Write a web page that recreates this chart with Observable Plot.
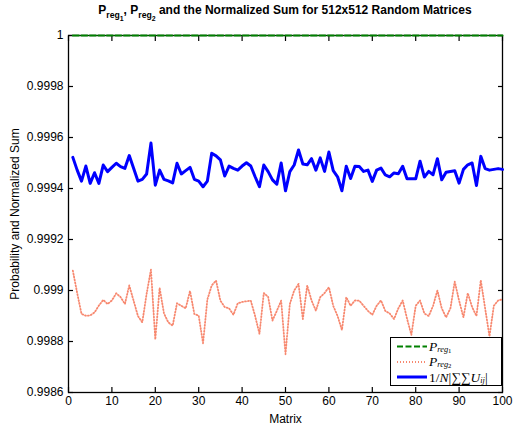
<!DOCTYPE html>
<html><head><meta charset="utf-8">
<script src="https://cdn.jsdelivr.net/npm/d3@7"></script>
<script src="https://cdn.jsdelivr.net/npm/@observablehq/plot@0.6"></script>
<style>
body{margin:0;background:#fff;}
#wrap{position:relative;width:526px;height:429px;font-family:"Liberation Sans",Arial,sans-serif;}
#title{position:absolute;left:0;top:4px;width:570px;text-align:center;font-weight:bold;font-size:12px;line-height:1;white-space:nowrap;}
#title sub{font-size:0.72em;vertical-align:-0.45em;line-height:0;}
#title sub sub{font-size:0.8em;vertical-align:-0.5em;}
#legend{position:absolute;left:390px;top:337px;width:110px;height:47px;border:1px solid #000;background:#fff;overflow:hidden;}
#legend svg{position:absolute;left:0;top:0;}
.lt{position:absolute;left:38px;font-family:"Liberation Serif","Times New Roman",serif;font-size:13.5px;line-height:13px;height:13px;white-space:nowrap;}
.lt i{font-style:italic;}
.lt sub{font-size:0.62em;vertical-align:baseline;position:relative;top:0.1em;line-height:0;font-style:italic;}
.lt sub sub{font-size:0.8em;font-style:normal;top:0.15em;}
</style>
</head><body>
<div id="wrap">
<div id="chart"></div>
<div id="title">P<sub>reg<sub>1</sub></sub>, P<sub>reg<sub>2</sub></sub> and the Normalized Sum for 512x512 Random Matrices</div>
<div id="legend">
<svg width="110" height="47">
<line x1="6" x2="36" y1="8.5" y2="8.5" stroke="#008000" stroke-width="2" stroke-dasharray="6,2.5"/>
<line x1="6" x2="36" y1="24" y2="24" stroke="#f4603f" stroke-width="1.8" stroke-dasharray="1,2" stroke-opacity="0.75"/>
<line x1="6" x2="36" y1="39" y2="39" stroke="#0000ff" stroke-width="3"/>
</svg>
<div class="lt" style="top:2px"><i>P</i><sub>reg<sub>1</sub></sub></div>
<div class="lt" style="top:17px"><i>P</i><sub>reg<sub>2</sub></sub></div>
<div class="lt" style="top:33px">1/<i>N</i>|∑∑<i>U</i><sub>ij</sub>|</div>
</div>
</div>
<script>
const matrices = d3.range(1, 101);
const pReg1 = [1,1,1,1,1,1,1,1,1,1, 1,1,1,1,1,1,1,1,1,1, 1,1,1,1,1,1,1,1,1,1, 1,1,1,1,1,1,1,1,1,1, 1,1,1,1,1,1,1,1,1,1,
               1,1,1,1,1,1,1,1,1,1, 1,1,1,1,1,1,1,1,1,1, 1,1,1,1,1,1,1,1,1,1, 1,1,1,1,1,1,1,1,1,1, 1,1,1,1,1,1,1,1,1,1];
const pReg2 = [
0.999078,0.998990,0.998908,0.998901,0.998902,0.998914,0.998941,0.998963,0.998947,0.998961,
0.998989,0.998974,0.998947,0.999020,0.998960,0.998900,0.998875,0.998987,0.999082,0.998808,
0.999010,0.998910,0.998875,0.998862,0.998950,0.998940,0.998930,0.998998,0.998908,0.998901,
0.998793,0.998965,0.999020,0.999039,0.998960,0.998935,0.998930,0.998905,0.998950,0.998955,
0.998958,0.998960,0.998900,0.998830,0.998990,0.998975,0.998882,0.998920,0.998960,0.998750,
0.998947,0.999000,0.999026,0.998888,0.999020,0.998961,0.998921,0.998974,0.998990,0.999013,
0.998940,0.998900,0.998845,0.998974,0.998940,0.998961,0.998960,0.998940,0.998920,0.998905,
0.998940,0.998961,0.998920,0.998910,0.998888,0.998930,0.998961,0.998890,0.998826,0.998940,
0.998961,0.998910,0.998900,0.998940,0.999000,0.998930,0.998895,0.998930,0.999035,0.998960,
0.998895,0.998990,0.998935,0.998900,0.999040,0.998930,0.998820,0.998940,0.998961,0.998965];
const normSum = [
0.999522,0.999472,0.999429,0.999488,0.999420,0.999462,0.999420,0.999492,0.999466,0.999483,
0.999499,0.999486,0.999479,0.999529,0.999479,0.999429,0.999436,0.999457,0.999578,0.999413,
0.999472,0.999436,0.999430,0.999422,0.999499,0.999457,0.999470,0.999483,0.999436,0.999429,
0.999407,0.999429,0.999538,0.999528,0.999512,0.999449,0.999488,0.999479,0.999472,0.999488,
0.999501,0.999488,0.999446,0.999407,0.999492,0.999466,0.999434,0.999417,0.999500,0.999391,
0.999466,0.999492,0.999551,0.999496,0.999493,0.999517,0.999472,0.999520,0.999467,0.999543,
0.999470,0.999446,0.999391,0.999487,0.999439,0.999487,0.999486,0.999467,0.999472,0.999428,
0.999472,0.999480,0.999453,0.999446,0.999461,0.999458,0.999487,0.999438,0.999438,0.999438,
0.999507,0.999445,0.999467,0.999454,0.999517,0.999434,0.999464,0.999467,0.999470,0.999421,
0.999475,0.999493,0.999500,0.999412,0.999526,0.999478,0.999472,0.999475,0.999478,0.999475];
const xTicks = [0,10,20,30,40,50,60,70,80,90,100];
const yTicks = [0.9986,0.9988,0.999,0.9992,0.9994,0.9996,0.9998,1];
const yTickLabels = ["0.9986","0.9988","0.999","0.9992","0.9994","0.9996","0.9998","1"];

const data = matrices.map((m, k) => ({m, p1: pReg1[k], p2: pReg2[k], s: normSum[k]}));

const chart = Plot.plot({
  width: 526, height: 429,
  marginLeft: 68, marginRight: 24, marginTop: 35, marginBottom: 37,
  style: {fontFamily: "'Liberation Sans', Arial, sans-serif", fontSize: "12px", color: "black", background: "white", overflow: "visible"},
  x: {domain: [0, 100]},
  y: {domain: [0.9986, 1]},
  marks: [
    Plot.frame({stroke: "black", strokeWidth: 1.3}),
    Plot.axisX(xTicks, {anchor: "bottom", tickSize: -5, tickPadding: 9, label: "Matrix", labelAnchor: "center", labelArrow: "none", labelOffset: 30, strokeWidth: 1.2}),
    Plot.axisX(xTicks, {anchor: "top", tickSize: -5, tickFormat: () => "", label: null, strokeWidth: 1.2}),
    Plot.axisY(yTicks, {anchor: "left", tickSize: -5, tickPadding: 10, tickFormat: d => yTickLabels[yTicks.indexOf(d)], label: "Probability and Normalized Sum", labelAnchor: "center", labelArrow: "none", labelOffset: 58, strokeWidth: 1.2}),
    Plot.axisY(yTicks, {anchor: "right", tickSize: -5, tickFormat: () => "", label: null, strokeWidth: 1.2}),
    Plot.lineY(data, {x: "m", y: "p1", stroke: "#008000", strokeWidth: 2, strokeDasharray: "6,2.5"}),
    Plot.lineY(data, {x: "m", y: "p2", stroke: "#f4603f", strokeWidth: 1.8, strokeDasharray: "1,2", strokeOpacity: 0.75}),
    Plot.lineY(data, {x: "m", y: "s", stroke: "#0000ff", strokeWidth: 3})
  ]
});
document.getElementById("chart").appendChild(chart);
</script>
</body></html>
